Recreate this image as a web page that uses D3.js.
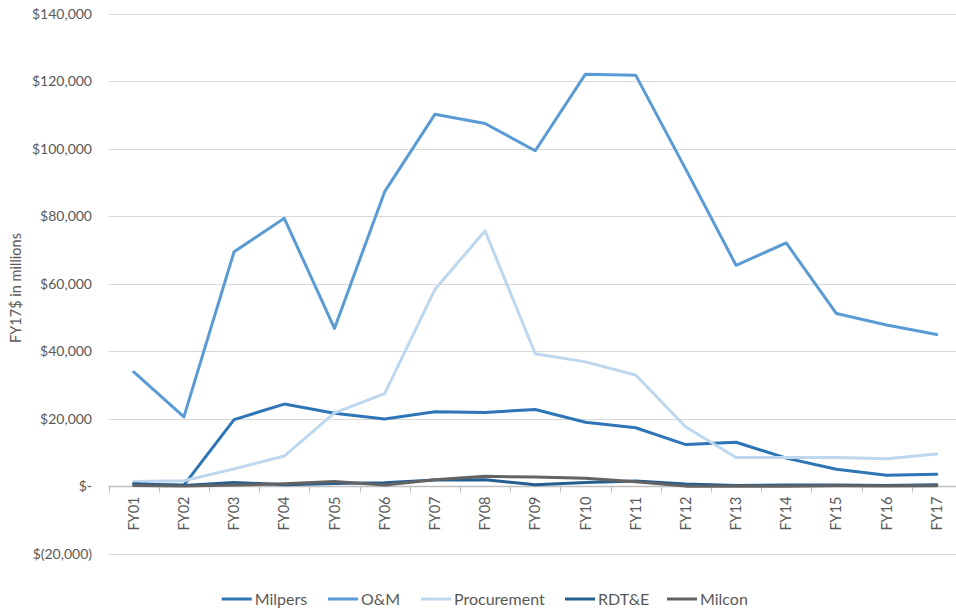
<!DOCTYPE html>
<html>
<head>
<meta charset="utf-8">
<script src="https://cdn.jsdelivr.net/npm/d3@7"></script>
<style>
  html, body { margin: 0; padding: 0; background: #fff; }
  svg { display: block; }
  text { font-family: Lato, "Open Sans", sans-serif; fill: #595959; }
</style>
</head>
<body>
<svg id="chart" width="956" height="611"></svg>
<script>
const categories = ["FY01","FY02","FY03","FY04","FY05","FY06","FY07","FY08","FY09","FY10","FY11","FY12","FY13","FY14","FY15","FY16","FY17"];
const milpers     = [500, 400, 19800, 24400, 21700, 20000, 22100, 21900, 22800, 19000, 17400, 12400, 13100, 8400, 5100, 3300, 3600];
const om          = [33900, 20600, 69500, 79400, 46800, 87300, 110200, 107500, 99400, 122100, 121800, 93900, 65500, 72100, 51200, 47800, 45000];
const procurement = [1500, 1700, 5200, 9000, 21800, 27500, 58300, 75700, 39300, 36900, 33000, 17600, 8600, 8600, 8600, 8200, 9600];
const rdte        = [800, 300, 1200, 500, 900, 1100, 1900, 2000, 500, 1200, 1600, 700, 300, 400, 400, 300, 500];
const milcon      = [300, 100, 400, 800, 1500, 400, 2000, 3000, 2800, 2400, 1400, 100, 100, 100, 200, 100, 200];
const seriesNames = ["Milpers", "O&M", "Procurement", "RDT&E", "Milcon"];
const yTicks = [-20000, 0, 20000, 40000, 60000, 80000, 100000, 120000, 140000];

const seriesValues = [milpers, om, procurement, rdte, milcon];
const colors = ["#2E75B6", "#5B9BD5", "#BDD7EE", "#255E91", "#636363"];

const svg = d3.select("#chart");
const x = d3.scaleBand().domain(categories).range([108.6, 961.9]).padding(0);
const y = d3.scaleLinear().domain([-20000, 140000]).range([554, 13.7]);

const fmt = v => v === 0 ? "$-" : (v < 0 ? "$(" + d3.format(",")(-v) + ")" : "$" + d3.format(",")(v));

// gridlines
svg.append("g").selectAll("line").data(yTicks.filter(d => d !== 0)).join("line")
  .attr("x1", x.range()[0]).attr("x2", x.range()[1])
  .attr("y1", d => Math.round(y(d)) + 0.5).attr("y2", d => Math.round(y(d)) + 0.5)
  .attr("stroke", "#D9D9D9").attr("stroke-width", 1);

// y axis labels
svg.append("g").selectAll("text").data(yTicks).join("text")
  .attr("x", 92).attr("y", d => y(d)).attr("dy", "0.35em")
  .attr("text-anchor", "end").attr("font-size", 14)
  .text(fmt);

// zero axis line + ticks
const y0 = Math.round(y(0)) + 0.5;
svg.append("line").attr("x1", x.range()[0]).attr("x2", x.range()[1])
  .attr("y1", y0).attr("y2", y0).attr("stroke", "#BFBFBF").attr("stroke-width", 1.3);
const tickPos = categories.map(c => x(c)).concat([x.range()[1]]);
svg.append("g").selectAll("line").data(tickPos).join("line")
  .attr("x1", d => Math.round(d) + 0.5).attr("x2", d => Math.round(d) + 0.5)
  .attr("y1", y0).attr("y2", y0 + 6).attr("stroke", "#BFBFBF").attr("stroke-width", 1);

// x labels
svg.append("g").selectAll("text").data(categories).join("text")
  .attr("transform", d => `translate(${x(d) + x.bandwidth() / 2},${y0 + 10}) rotate(-90)`)
  .attr("text-anchor", "end").attr("dy", "0.35em").attr("font-size", 14.5)
  .text(d => d);

// y title
svg.append("text")
  .attr("transform", `translate(16,288) rotate(-90)`)
  .attr("text-anchor", "middle").attr("dy", "0.35em").attr("font-size", 14.5)
  .text("FY17$ in millions");

// lines
const line = d3.line().x((d, i) => x(categories[i]) + x.bandwidth() / 2).y(d => y(d));
svg.append("g").selectAll("path").data(seriesValues).join("path")
  .attr("d", d => line(d)).attr("fill", "none")
  .attr("stroke", (d, i) => colors[i]).attr("stroke-width", 3)
  .attr("stroke-linejoin", "round").attr("stroke-linecap", "round");

// legend
const legendX = [221.7, 328, 421, 565, 667];
const lg = svg.append("g").selectAll("g").data(seriesNames).join("g")
  .attr("transform", (d, i) => `translate(${legendX[i]},599)`);
lg.append("line").attr("x1", 0).attr("x2", 30).attr("y1", 0).attr("y2", 0)
  .attr("stroke", (d, i) => colors[i]).attr("stroke-width", 3);
lg.append("text").attr("x", 33).attr("dy", "0.35em").attr("font-size", 16).text(d => d);
</script>
</body>
</html>
